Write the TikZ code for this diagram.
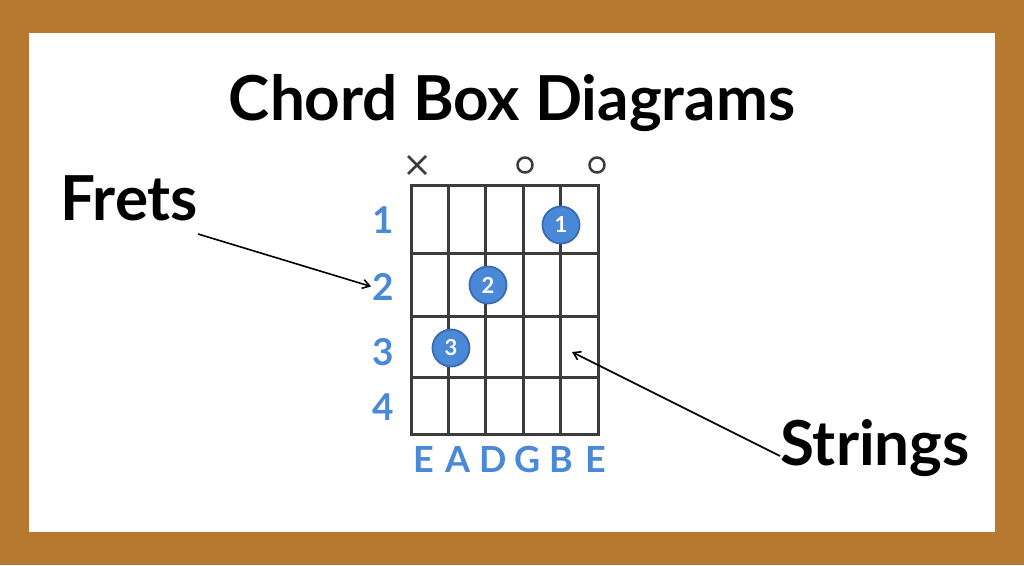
\documentclass[tikz,border=0pt]{standalone}
\usepackage{fontspec}
\setmainfont{Lato}
\usetikzlibrary{arrows.meta}

\definecolor{frame}{HTML}{B7792F}
\definecolor{chordblue}{HTML}{4A88D8}
\definecolor{dotedge}{HTML}{3A6BB4}
\definecolor{gridgray}{HTML}{3C3C3C}

\tikzset{
  fretnum/.style={text=chordblue, font=\bfseries\fontsize{37}{40}\selectfont, anchor=base, inner sep=1pt},
  stringname/.style={text=chordblue, font=\bfseries\fontsize{36}{40}\selectfont, anchor=base, inner sep=0pt},
  fingerdot/.style={circle, fill=chordblue, draw=dotedge, line width=1.8pt, minimum size=37pt, inner sep=0pt,
    text=white, font=\bfseries\fontsize{22}{22}\selectfont},
  label/.style={font=\bfseries\fontsize{62}{68}\selectfont, anchor=base west, inner sep=0pt},
  callout/.style={line width=1.6pt, -{Straight Barb[length=7pt,width=9pt]}}
}

\begin{document}
\begin{tikzpicture}[x=1pt,y=-1pt]
% frame
\fill[frame] (0,0) rectangle (1024,565);
\fill[white] (29,33) rectangle (995,532);
\useasboundingbox (0,0) rectangle (1024,565);

\node[font=\bfseries\fontsize{62}{68}\selectfont, anchor=base, inner sep=0pt] (title) at (512,120) {Chord Box Diagrams};

% grid
\foreach \y in {253,316,377}
  \draw[gridgray, line width=3pt] (411,\y) -- (598,\y);
\foreach \i in {1,...,4}
  \draw[gridgray, line width=3pt] ({411+37.4*\i},185) -- ({411+37.4*\i},434);
\draw[gridgray, line width=3pt] (411,185) rectangle (598,434);

% open and muted strings
\draw[gridgray, line width=2.5pt] (408,156) -- (426,174) (408,174) -- (426,156);
\draw[gridgray, line width=2.5pt] (525,165) circle (7.5);
\draw[gridgray, line width=2.5pt] (597,165) circle (7.5);

% fret numbers
\node[fretnum] (f1) at (383,233) {1};
\node[fretnum] (f2) at (383,300) {2};
\node[fretnum] (f3) at (383,365) {3};
\node[fretnum] (f4) at (383,420) {4};

% string names
\foreach \s [count=\i from 0] in {E,A,D,G,B,E}
  \node[stringname] (s\i) at ({424+34.4*\i},472) {\s};

% fingers
\node[fingerdot] (d1) at (561,225) {1};
\node[fingerdot] (d2) at (488,285) {2};
\node[fingerdot] (d3) at (451,348) {3};

% callouts
\node[label] (frets) at (60,220) {Frets};
\node[label] (strings) at (780,465) {Strings};
\coordinate (fretstail) at (198,234);
\coordinate (stringtip) at (572,352);
\draw[callout] (fretstail) -- (f2.west);
\draw[callout] (strings.west |- 0,456) -- (stringtip);
\end{tikzpicture}
\end{document}
